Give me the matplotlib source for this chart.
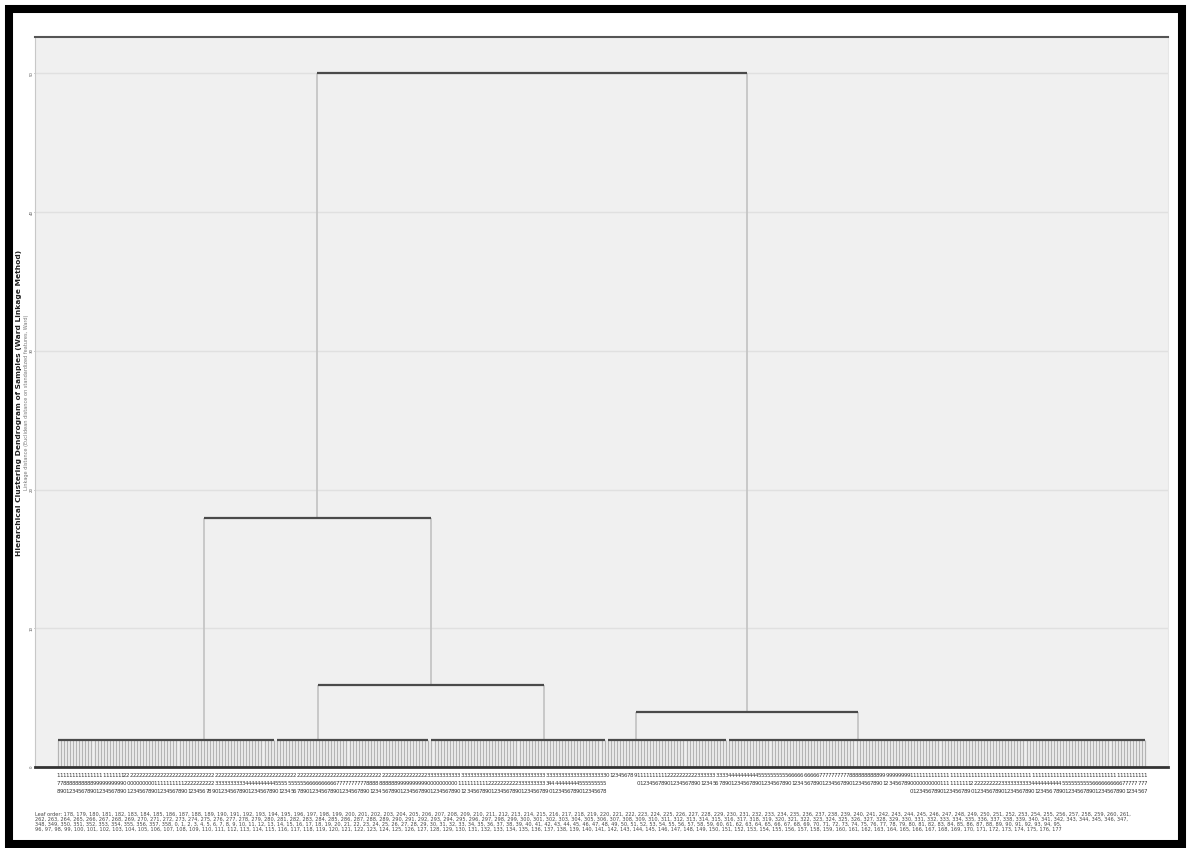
import textwrap

import numpy as np
import matplotlib.pyplot as plt
from matplotlib.patches import Rectangle

# flat clusters at the bottom of the tree (left to right)
cluster_sizes = [72, 51, 58, 40, 138]
cluster_height = 1.95
cluster_join = [48, 13.5, 37, 9.5, 42.5]  # leaf offset where the parent link attaches
cluster_ids = [(178, 250), (250, 301), (301, 359), (0, 40), (40, 178)]

# merges: node indices 0-4 are the clusters, 5+ are merges in order
merge_a = [1, 0, 3, 6]
merge_b = [2, 5, 4, 7]
merge_h = [5.9, 17.95, 4.0, 50.0]

yticks = [0, 10, 20, 30, 40, 50]

BG = "#f0f0f0"
DARK = "#4a4a4a"
LIGHT = "#c2c2c2"

fig = plt.figure(figsize=(11.88, 8.48), dpi=100)
ax = fig.add_axes([35 / 1188, 81 / 848, 1133 / 1188, 730 / 848])
ax.set_facecolor(BG)

leaf_labels = []
node_x, node_h = [], []
start = 0
for size, join, (lo, hi) in zip(cluster_sizes, cluster_join, cluster_ids):
    xs = np.arange(start, start + size)
    ax.vlines(xs, 0, cluster_height, colors="#b4b4b4", lw=0.9, zorder=2)
    ax.hlines(cluster_height, start, start + size - 1, colors=DARK, lw=1.6, zorder=3)
    node_x.append(start + join)
    node_h.append(cluster_height)
    leaf_labels += [str(i) for i in range(lo, hi)]
    start += size
n_leaves = start

for a, b, h in zip(merge_a, merge_b, merge_h):
    ax.vlines([node_x[a], node_x[b]], [node_h[a], node_h[b]], h, colors=LIGHT, lw=1.2, zorder=2)
    ax.hlines(h, node_x[a], node_x[b], colors=DARK, lw=1.6, zorder=3)
    node_x.append((node_x[a] + node_x[b]) / 2)
    node_h.append(h)

ax.set_xlim(-7.6, n_leaves - 1 + 7.6)
ax.set_ylim(0, 52.63)

# leaf labels, digits stacked vertically
ax.set_xticks(range(n_leaves))
ax.set_xticklabels(["\n".join(s) for s in leaf_labels], fontsize=4, linespacing=1.8,
                   color="#333333", va="top")
ax.tick_params(axis="x", length=0, pad=4)

ax.set_yticks(yticks)
ax.set_yticklabels([str(t) for t in yticks], fontsize=2.8, rotation=90, color="#555555", va="center")
ax.tick_params(axis="y", length=1, width=0.6, color="#888888", pad=0)
ax.grid(True, axis="y", color="#e0e0e0", lw=1)
ax.set_axisbelow(True)

ax.spines["top"].set_color("#555555")
ax.spines["top"].set_linewidth(1.5)
ax.spines["bottom"].set_color("#333333")
ax.spines["bottom"].set_linewidth(2)
ax.spines["left"].set_color("#c8c8c8")
ax.spines["right"].set_color("#e6e6e6")

fig.text(19.5 / 1188, 0.525, "Hierarchical Clustering Dendrogram of Samples (Ward Linkage Method)",
         rotation=90, fontsize=5.4, fontweight="bold", color="#222222", ha="center", va="center")
fig.text(26.5 / 1188, 0.525, "Linkage distance (Euclidean distance on standardized features, Ward)",
         rotation=90, fontsize=3.6, color="#777777", ha="center", va="center")

xlabel = "Leaf order: " + ", ".join(leaf_labels)
width = len(xlabel) // 4 + 8
lines = textwrap.wrap(xlabel, width)
fs = 3.6 * 1100 / (width * 2.54)
fig.text(35 / 1188, 26 / 848, "\n".join(lines), fontsize=fs, linespacing=1.0,
         color="#444444", ha="left", va="center")

fig.patches.append(Rectangle((9 / 1188, 4 / 848), 1173 / 1188, 835 / 848, transform=fig.transFigure,
                             fill=False, edgecolor="black", lw=5.8))

fig.savefig("out.png", dpi=100, facecolor="white")
